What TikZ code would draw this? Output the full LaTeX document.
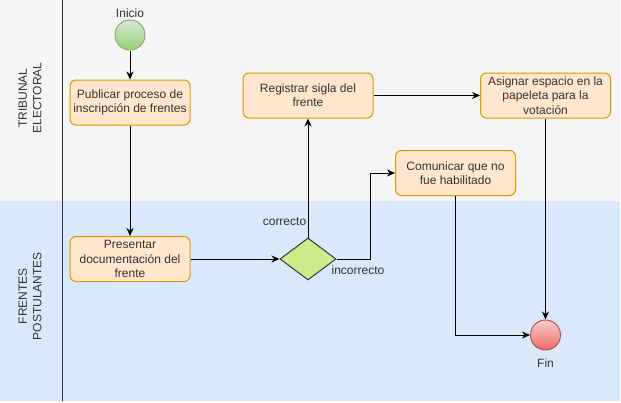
\documentclass[tikz,border=0pt]{standalone}
\usepackage{fontspec}
\setmainfont{Liberation Sans}
\usetikzlibrary{positioning}
\usetikzlibrary{arrows.meta}
\usetikzlibrary{shapes.geometric}
\definecolor{laneGrey}{HTML}{F5F5F5}
\definecolor{laneBlue}{HTML}{DAE8FC}
\definecolor{taskFill}{HTML}{FFE6CC}
\definecolor{taskDraw}{HTML}{D79B00}
\definecolor{gateFill}{HTML}{CDEB8B}
\definecolor{gateDraw}{HTML}{36393D}
\definecolor{startTop}{HTML}{D5E8D4}
\definecolor{startBottom}{HTML}{97D077}
\definecolor{startDraw}{HTML}{82B366}
\definecolor{endTop}{HTML}{F8CECC}
\definecolor{endBottom}{HTML}{EA6B66}
\definecolor{endDraw}{HTML}{B85450}
\definecolor{textGrey}{HTML}{333333}
\tikzset{
   diagramText/.style={font=\fontsize{12}{14.4}\selectfont, text=textGrey},
   taskBox/.style={diagramText, draw=taskDraw, fill=taskFill, rounded corners=6pt, line width=1pt, minimum width=120pt, minimum height=45pt, align=center, inner sep=2pt},
   gateway/.style={diamond, draw=gateDraw, fill=gateFill, line width=1pt, minimum width=56pt, minimum height=42pt, inner sep=0pt},
   startEvent/.style={circle, draw=startDraw, top color=startTop, bottom color=startBottom, line width=1pt, minimum size=30pt, inner sep=0pt},
   endEvent/.style={circle, draw=endDraw, top color=endTop, bottom color=endBottom, line width=1pt, minimum size=30pt, inner sep=0pt},
   laneLabel/.style={diagramText, rotate=90, align=center, inner sep=0pt},
   edgeLabel/.style={diagramText, inner sep=0pt},
   flowArrow/.style={draw=black, line width=1pt, -{Stealth[length=8pt, width=7pt]}},
}

\begin{document}
\begin{tikzpicture}[x=1pt,y=-1pt]
  \useasboundingbox (0,0) rectangle (621,402);
  %
  % lanes
  \fill[laneGrey] (0,0) rectangle (620,201);
  \fill[laneBlue] (0,201) rectangle (620,401);
  \draw[textGrey, line width=1pt] (62,0) -- (62,401);
  \node[laneLabel] (tribunalLane) at (30,98) {TRIBUNAL\\ELECTORAL};
  \node[laneLabel] (frentesLane) at (30,296) {FRENTES\\POSTULANTES};
  %
  \node[startEvent, label={[diagramText, label distance=-2pt]above:Inicio}] (inicio) at (130,35) {};
  \node[taskBox] (publicar) at (130,102.5) {Publicar proceso de\\inscripción de frentes};
  \node[taskBox] (presentar) at (130,259) {Presentar\\documentación del\\frente};
  \node[gateway] (decision) at (308,259) {};
  \node[taskBox, minimum width=130pt] (registrar) at (308,95.5) {Registrar sigla del\\frente};
  \node[taskBox, minimum width=130pt] (asignar) at (545.5,95.5) {Asignar espacio en la\\papeleta para la\\votación};
  \node[taskBox] (comunicar) at (455.5,173) {Comunicar que no\\fue habilitado};
  \node[endEvent, label={[diagramText, label distance=5pt]below:Fin}] (fin) at (545.5,335) {};
  %
  \coordinate (incorrectoBend) at (370,259);
  \node[edgeLabel] (correctoLabel) at (284.5,222) {correcto};
  \node[edgeLabel] (incorrectoLabel) at (358,270) {incorrecto};
  %
  \draw[flowArrow] (inicio) -- (publicar);
  \draw[flowArrow] (publicar) -- (presentar);
  \draw[flowArrow] (presentar) -- (decision);
  \draw[flowArrow] (decision) -- (registrar);
  \draw[flowArrow] (decision.east) -- (incorrectoBend) |- (comunicar.west);
  \draw[flowArrow] (registrar) -- (asignar);
  \draw[flowArrow] (asignar) -- (fin);
  \draw[flowArrow] (comunicar) |- (fin);
\end{tikzpicture}
\end{document}
